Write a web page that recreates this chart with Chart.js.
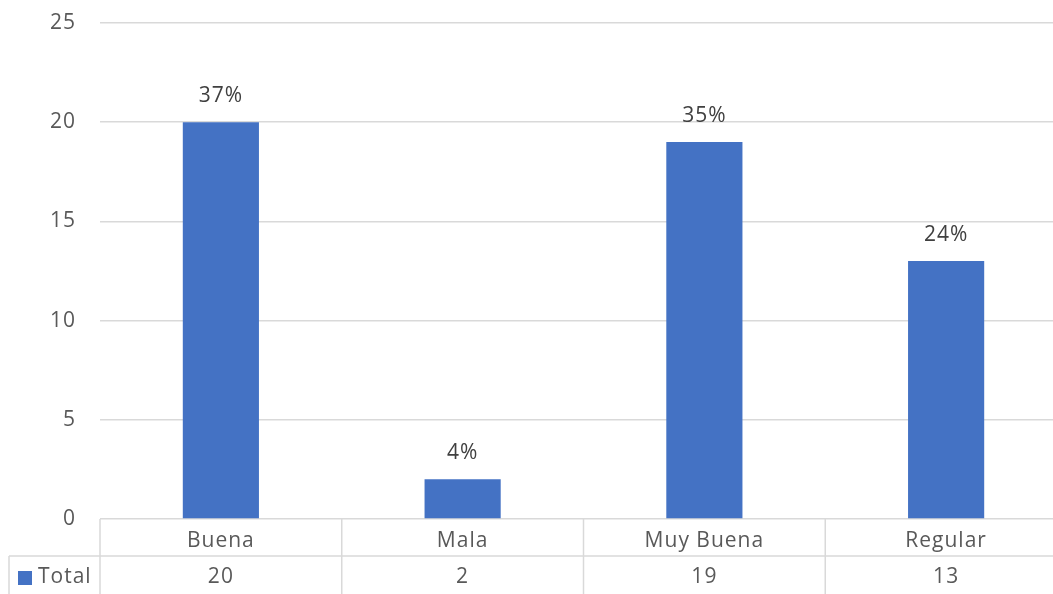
<!DOCTYPE html>
<html>
<head>
<meta charset="utf-8">
<script src="https://cdn.jsdelivr.net/npm/chart.js@4.4.1/dist/chart.umd.min.js"></script>
<style>
  html, body { margin: 0; padding: 0; background: #fff; overflow: hidden; }
  #wrap { position: absolute; left: 0; top: 0; width: 1067px; height: 594px; }
</style>
</head>
<body>
<div id="wrap"><canvas id="c"></canvas></div>
<script>
// Survey results by rating
const categories = ['Buena', 'Mala', 'Muy Buena', 'Regular'];
const totals = [20, 2, 19, 13];
const seriesName = 'Total';
const yTicks = [0, 5, 10, 15, 20, 25];

const BAR_COLOR = '#4472C4';
const GRID_COLOR = '#D9D9D9';
const TEXT_COLOR = '#595959';
const FONT = '"Open Sans", "Liberation Sans", sans-serif';
const FONT_SIZE = 21;
const ROW_H = 37;

const grandTotal = totals.reduce((a, b) => a + b, 0);

// Slightly tracked-out lettering for every text on the canvas
const tracking = {
  id: 'tracking',
  beforeUpdate(chart) { chart.ctx.letterSpacing = '1px'; },
  beforeDraw(chart) { chart.ctx.letterSpacing = '1px'; }
};

// Percentage of the grand total printed above each bar
const percentLabels = {
  id: 'percentLabels',
  afterDatasetsDraw(chart) {
    const ctx = chart.ctx;
    const meta = chart.getDatasetMeta(0);
    ctx.save();
    ctx.font = FONT_SIZE + 'px ' + FONT;
    ctx.fillStyle = '#404040';
    ctx.textAlign = 'center';
    ctx.textBaseline = 'middle';
    meta.data.forEach((bar, i) => {
      const pct = Math.round(totals[i] / grandTotal * 100) + '%';
      ctx.fillText(pct, bar.x, bar.y - 26);
    });
    ctx.restore();
  }
};

// Data table under the plot: cell borders, legend key and value row
const dataTable = {
  id: 'dataTable',
  afterDraw(chart) {
    const ctx = chart.ctx;
    const area = chart.chartArea;
    const xs = chart.scales.x;
    const step = xs.getPixelForValue(1) - xs.getPixelForValue(0);
    const top = area.bottom;
    const mid = top + ROW_H;
    const bottom = chart.height;
    ctx.save();
    ctx.strokeStyle = GRID_COLOR;
    ctx.lineWidth = 1.5;
    ctx.beginPath();
    // header row separator
    ctx.moveTo(9, mid); ctx.lineTo(area.right, mid);
    // left border of the series row
    ctx.moveTo(9, mid); ctx.lineTo(9, bottom);
    // column separators
    for (let i = 0; i <= categories.length; i++) {
      const bx = xs.getPixelForValue(i) - step / 2;
      ctx.moveTo(bx, top); ctx.lineTo(bx, bottom);
    }
    ctx.stroke();

    // legend key
    ctx.fillStyle = BAR_COLOR;
    ctx.fillRect(18, mid + 15, 14, 14);
    ctx.font = FONT_SIZE + 'px ' + FONT;
    ctx.fillStyle = TEXT_COLOR;
    ctx.textBaseline = 'middle';
    ctx.textAlign = 'left';
    ctx.fillText(seriesName, 38, mid + ROW_H / 2 + 3);

    // values row
    ctx.textAlign = 'center';
    totals.forEach((v, i) => {
      ctx.fillText(String(v), xs.getPixelForValue(i), mid + ROW_H / 2 + 3);
    });
    ctx.restore();
  }
};

new Chart(document.getElementById('c'), {
  type: 'bar',
  data: {
    labels: categories,
    datasets: [{
      label: seriesName,
      data: totals,
      backgroundColor: BAR_COLOR,
      borderWidth: 0,
      barPercentage: 0.315,
      categoryPercentage: 1
    }]
  },
  options: {
    responsive: true,
    maintainAspectRatio: false,
    animation: false,
    layout: { padding: { top: 23, right: 0, left: 0, bottom: 0 } },
    plugins: {
      legend: { display: false },
      tooltip: { enabled: false }
    },
    scales: {
      x: {
        grid: { display: false, drawTicks: false },
        border: { display: false },
        ticks: {
          color: TEXT_COLOR,
          font: { family: FONT, size: FONT_SIZE },
          padding: 9,
          maxRotation: 0,
          autoSkip: false
        },
        afterFit(scale) { scale.height = 75; }
      },
      y: {
        min: 0,
        max: 25,
        afterBuildTicks(scale) { scale.ticks = yTicks.map(v => ({ value: v })); },
        grid: { color: GRID_COLOR, lineWidth: 1.5, drawTicks: false },
        border: { display: false },
        ticks: {
          color: TEXT_COLOR,
          font: { family: FONT, size: FONT_SIZE },
          padding: 24
        },
        afterFit(scale) {
          scale.width = 100;
          scale.paddingTop = 12;
          scale.paddingBottom = 0;
        }
      }
    }
  },
  plugins: [tracking, percentLabels, dataTable]
});
</script>
</body>
</html>
